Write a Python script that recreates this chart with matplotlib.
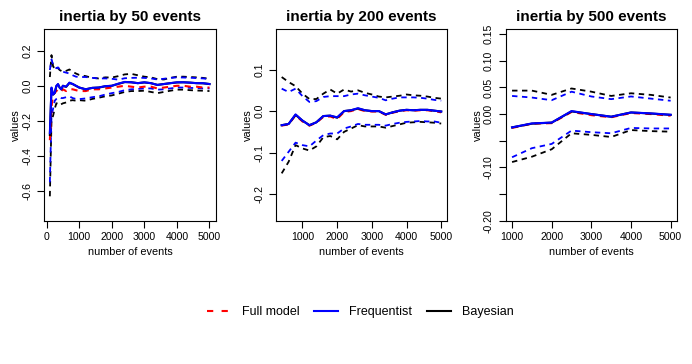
import matplotlib
matplotlib.use("Agg")
import matplotlib.pyplot as plt
from matplotlib.lines import Line2D

plt.rcParams.update({
    "font.family": ["Liberation Sans", "DejaVu Sans"],
    "axes.linewidth": 0.8,
    "xtick.major.width": 0.8,
    "ytick.major.width": 0.8,
})

# ---- inertia by 50 events ----
x_50 = [100, 150, 200, 250, 300, 350, 400, 450, 500, 600, 700, 800, 900, 1000,
        1200, 1400, 1600, 1800, 2000, 2200, 2400, 2600, 2800, 3000, 3200, 3400,
        3600, 3800, 4000, 4200, 4400, 4600, 4800, 5000]
full_50 = [-0.31, -0.12, -0.05, -0.04, -0.03, -0.02, -0.03, -0.03, -0.02, -0.03,
           -0.02, -0.02, -0.025, -0.03, -0.03, -0.02, -0.02, -0.015, -0.01, -0.005,
           0.0, -0.005, -0.01, -0.005, -0.005, -0.015, -0.01, -0.005, 0.0, 0.0,
           -0.005, -0.005, -0.01, -0.01]
freq_50 = [-0.27, -0.01, -0.05, -0.04, 0.0, 0.01, -0.01, -0.02, 0.0, -0.005,
           0.018, 0.01, 0.0, -0.01, -0.02, -0.012, -0.01, -0.002, 0.0, 0.012,
           0.022, 0.02, 0.015, 0.02, 0.015, 0.005, 0.01, 0.015, 0.02, 0.02,
           0.018, 0.015, 0.015, 0.01]
bayes_50 = [-0.28, -0.015, -0.05, -0.04, -0.002, 0.008, -0.01, -0.02, 0.0, -0.006,
            0.016, 0.01, 0.0, -0.01, -0.02, -0.012, -0.01, -0.003, 0.0, 0.011,
            0.021, 0.02, 0.015, 0.019, 0.015, 0.005, 0.01, 0.015, 0.019, 0.02,
            0.018, 0.015, 0.014, 0.01]
freq_hi_50 = [0.09, 0.15, 0.12, 0.11, 0.10, 0.105, 0.095, 0.09, 0.08, 0.075,
              0.07, 0.06, 0.052, 0.05, 0.05, 0.045, 0.042, 0.042, 0.04, 0.035,
              0.043, 0.045, 0.046, 0.045, 0.042, 0.036, 0.04, 0.045, 0.048, 0.047,
              0.046, 0.044, 0.042, 0.038]
bayes_hi_50 = [0.05, 0.175, 0.11, 0.10, 0.11, 0.10, 0.09, 0.085, 0.08, 0.085,
               0.093, 0.08, 0.07, 0.062, 0.055, 0.045, 0.042, 0.048, 0.047, 0.055,
               0.065, 0.068, 0.06, 0.052, 0.048, 0.038, 0.036, 0.045, 0.052, 0.052,
               0.05, 0.048, 0.045, 0.04]
freq_lo_50 = [-0.55, -0.17, -0.13, -0.085, -0.075, -0.07, -0.065, -0.07, -0.07, -0.065,
              -0.06, -0.07, -0.075, -0.076, -0.072, -0.065, -0.06, -0.05, -0.042, -0.035,
              -0.025, -0.02, -0.018, -0.015, -0.015, -0.022, -0.02, -0.015, -0.01, -0.01,
              -0.012, -0.013, -0.015, -0.015]
bayes_lo_50 = [-0.63, -0.2, -0.17, -0.13, -0.1, -0.1, -0.11, -0.105, -0.1, -0.095,
               -0.085, -0.082, -0.085, -0.082, -0.085, -0.075, -0.068, -0.06, -0.055, -0.045,
               -0.035, -0.03, -0.03, -0.028, -0.035, -0.042, -0.035, -0.028, -0.022, -0.022,
               -0.025, -0.027, -0.028, -0.03]

# ---- inertia by 200 events ----
x_200 = [400, 600, 800, 1000, 1200, 1400, 1600, 1800, 2000, 2200, 2400, 2600,
         2800, 3000, 3200, 3400, 3600, 3800, 4000, 4200, 4400, 4600, 4800, 5000]
full_200 = [-0.035, -0.032, -0.01, -0.025, -0.035, -0.028, -0.014, -0.013, -0.019, -0.002,
            0.0, 0.005, 0.0, -0.001, -0.001, -0.009, -0.004, 0.0, 0.002, 0.001,
            0.002, 0.002, 0.0, -0.003]
freq_200 = [-0.034, -0.031, -0.008, -0.023, -0.034, -0.027, -0.012, -0.011, -0.015, 0.0,
            0.002, 0.007, 0.002, 0.0, 0.0, -0.008, -0.003, 0.001, 0.003, 0.002,
            0.003, 0.003, 0.001, -0.001]
bayes_200 = [-0.034, -0.031, -0.009, -0.023, -0.034, -0.027, -0.012, -0.011, -0.016, 0.0,
             0.002, 0.006, 0.002, 0.0, 0.0, -0.008, -0.003, 0.001, 0.003, 0.002,
             0.003, 0.003, 0.001, -0.001]
freq_hi_200 = [0.054, 0.046, 0.054, 0.036, 0.022, 0.024, 0.034, 0.036, 0.036, 0.036,
               0.04, 0.042, 0.038, 0.035, 0.032, 0.026, 0.03, 0.033, 0.033, 0.033,
               0.032, 0.03, 0.027, 0.025]
bayes_hi_200 = [0.082, 0.07, 0.06, 0.042, 0.029, 0.029, 0.042, 0.052, 0.042, 0.052,
                0.047, 0.05, 0.044, 0.04, 0.035, 0.033, 0.035, 0.037, 0.04, 0.038,
                0.037, 0.035, 0.032, 0.03]
freq_lo_200 = [-0.12, -0.098, -0.076, -0.082, -0.085, -0.071, -0.058, -0.054, -0.054, -0.042,
               -0.037, -0.031, -0.033, -0.033, -0.033, -0.035, -0.031, -0.028, -0.026, -0.025,
               -0.024, -0.025, -0.025, -0.028]
bayes_lo_200 = [-0.15, -0.122, -0.082, -0.09, -0.095, -0.085, -0.063, -0.06, -0.068, -0.05,
                -0.042, -0.034, -0.037, -0.037, -0.037, -0.04, -0.036, -0.032, -0.028, -0.027,
                -0.026, -0.027, -0.028, -0.03]

# ---- inertia by 500 events ----
x_500 = [1000, 1500, 2000, 2500, 3000, 3500, 4000, 4500, 5000]
full_500 = [-0.026, -0.018, -0.017, 0.004, -0.002, -0.006, 0.002, 0.0, -0.003]
freq_500 = [-0.025, -0.0175, -0.016, 0.0056, 0.0, -0.005, 0.003, 0.0013, -0.0013]
bayes_500 = [-0.025, -0.018, -0.016, 0.005, 0.0, -0.005, 0.003, 0.001, -0.0015]
freq_hi_500 = [0.034, 0.031, 0.026, 0.042, 0.033, 0.028, 0.033, 0.029, 0.025]
bayes_hi_500 = [0.044, 0.044, 0.036, 0.048, 0.042, 0.034, 0.039, 0.036, 0.031]
freq_lo_500 = [-0.081, -0.064, -0.056, -0.031, -0.034, -0.036, -0.026, -0.027, -0.027]
bayes_lo_500 = [-0.09, -0.08, -0.066, -0.036, -0.039, -0.043, -0.03, -0.032, -0.033]

titles = ["inertia by 50 events", "inertia by 200 events", "inertia by 500 events"]
xticks = [[0, 1000, 2000, 3000, 4000, 5000], [1000, 2000, 3000, 4000, 5000],
          [1000, 2000, 3000, 4000, 5000]]
yticks = [[-0.6, -0.4, -0.2, 0.0, 0.2], [-0.2, -0.1, 0.0, 0.1],
          [-0.20, -0.15, -0.10, -0.05, 0.00, 0.05, 0.10, 0.15]]
ytick_labels = [["-0.6", "-0.4", "-0.2", "0.0", "0.2"], ["-0.2", "-0.1", "0.0", "0.1"],
                ["-0.20", "", "-0.10", "", "0.00", "0.05", "0.10", "0.15"]]

panels = [
    (x_50, full_50, freq_50, bayes_50, freq_hi_50, freq_lo_50, bayes_hi_50, bayes_lo_50),
    (x_200, full_200, freq_200, bayes_200, freq_hi_200, freq_lo_200, bayes_hi_200, bayes_lo_200),
    (x_500, full_500, freq_500, bayes_500, freq_hi_500, freq_lo_500, bayes_hi_500, bayes_lo_500),
]
xlims = [(-71, 5186), (235, 5174), (840, 5160)]
ylims = [(-0.769, 0.322), (-0.264, 0.197), (-0.20, 0.159)]
lefts = [0.064, 0.3988, 0.7308]

DASH = (0, (3, 2.5))

fig = plt.figure(figsize=(6.92, 3.64), dpi=100)

for i, (x, full, freq, bayes, fhi, flo, bhi, blo) in enumerate(panels):
    ax = fig.add_axes([lefts[i], 0.3937, 0.2475, 0.5258])
    ax.plot(x, bhi, color="black", lw=1.3, ls=DASH)
    ax.plot(x, blo, color="black", lw=1.3, ls=DASH)
    ax.plot(x, fhi, color="blue", lw=1.3, ls=DASH)
    ax.plot(x, flo, color="blue", lw=1.3, ls=DASH)
    ax.plot(x, full, color="red", lw=1.5, ls=DASH)
    ax.plot(x, bayes, color="black", lw=1.5)
    ax.plot(x, freq, color="blue", lw=1.5)

    ax.set_xlim(*xlims[i])
    ax.set_ylim(*ylims[i])
    ax.set_xticks(xticks[i])
    ax.set_yticks(yticks[i])
    ax.set_yticklabels(ytick_labels[i], rotation=90, va="center")
    ax.tick_params(labelsize=7.6, length=5, pad=3.5)
    ax.set_title(titles[i], fontsize=11, fontweight="bold", pad=6)
    ax.set_xlabel("number of events", fontsize=7.8, labelpad=3)
    ax.set_ylabel("values", fontsize=7.8, labelpad=1)

handles = [
    Line2D([], [], color="red", lw=1.5, ls=(0, (3, 4))),
    Line2D([], [], color="blue", lw=1.5),
    Line2D([], [], color="black", lw=1.5),
]
fig.legend(handles, ["Full model", "Frequentist", "Bayesian"], loc="center",
           bbox_to_anchor=(0.521, 0.143), ncol=3, frameon=False, fontsize=9,
           handlelength=1.9, handletextpad=0.9, columnspacing=1.2)

fig.savefig("out.png", dpi=100)
